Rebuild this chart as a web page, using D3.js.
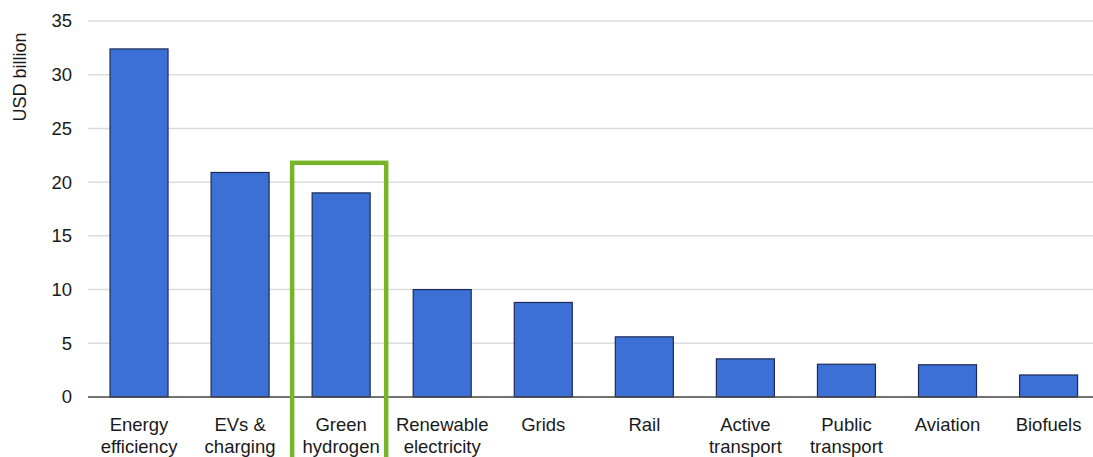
<!DOCTYPE html>
<html>
<head>
<meta charset="utf-8">
<script src="https://cdn.jsdelivr.net/npm/d3@7"></script>
<style>
  body { margin: 0; background: #fff; }
  svg { display: block; font-family: "Liberation Sans", Arial, sans-serif; }
</style>
</head>
<body>
<div id="chart"></div>
<script>
// data
var categories = [
  ["Energy", "efficiency"], ["EVs &", "charging"], ["Green", "hydrogen"],
  ["Renewable", "electricity"], ["Grids"], ["Rail"], ["Active", "transport"],
  ["Public", "transport"], ["Aviation"], ["Biofuels"]
];
var values = [32.4, 20.9, 19.0, 10.0, 8.8, 5.6, 3.55, 3.05, 3.0, 2.05];
var yTicks = [0, 5, 10, 15, 20, 25, 30, 35];
var highlight = "Green hydrogen";
var highlightTop = 21.8;

var width = 1093, height = 457;

var svg = d3.select("#chart")
  .append("svg")
    .attr("width", width)
    .attr("height", height);

var names = categories.map(function(c) { return c.join(" "); });

var x = d3.scaleBand()
  .domain(names)
  .range([88.5, 1099.1])
  .paddingInner(0.426)
  .paddingOuter(0.213);

var y = d3.scaleLinear()
  .domain([0, 35])
  .range([397, 21]);

// gridlines
svg.append("g")
  .selectAll("line")
  .data(yTicks.filter(function(d) { return d > 0; }))
  .enter()
  .append("line")
    .attr("x1", 88)
    .attr("x2", width)
    .attr("y1", function(d) { return y(d); })
    .attr("y2", function(d) { return y(d); })
    .attr("stroke", "#dcdcdc")
    .attr("stroke-width", 1.5);

// y axis labels
var yAxis = svg.append("g")
  .attr("transform", "translate(88,0)")
  .call(d3.axisLeft(y).tickValues(yTicks).tickSize(0).tickPadding(16));
yAxis.select(".domain").remove();
yAxis.selectAll("text")
  .attr("font-size", 18.5)
  .attr("font-family", "Liberation Sans, Arial, sans-serif")
  .attr("fill", "#1a1a1a");

svg.append("text")
  .attr("transform", "translate(26,77)rotate(-90)")
  .attr("text-anchor", "middle")
  .attr("font-size", 18)
  .attr("fill", "#1a1a1a")
  .text("USD billion");

// bars
svg.selectAll("rect.bar")
  .data(values)
  .enter()
  .append("rect")
    .attr("class", "bar")
    .attr("x", function(d, i) { return x(names[i]); })
    .attr("y", function(d) { return y(d); })
    .attr("width", x.bandwidth())
    .attr("height", function(d) { return y(0) - y(d); })
    .attr("fill", "#3c70d6")
    .attr("stroke", "#1c2b55")
    .attr("stroke-width", 1.2);

// baseline
svg.append("line")
  .attr("x1", 88)
  .attr("x2", width)
  .attr("y1", y(0))
  .attr("y2", y(0))
  .attr("stroke", "#444")
  .attr("stroke-width", 1.6);

// category labels
var labels = svg.append("g")
  .selectAll("text")
  .data(categories)
  .enter()
  .append("text")
    .attr("x", function(d, i) { return x(names[i]) + x.bandwidth() / 2; })
    .attr("y", 431)
    .attr("text-anchor", "middle")
    .attr("font-size", 18.5)
    .attr("fill", "#1a1a1a");
labels.selectAll("tspan")
  .data(function(d) { return d; })
  .enter()
  .append("tspan")
    .attr("x", function() { return d3.select(this.parentNode).attr("x"); })
    .attr("dy", function(d, i) { return i === 0 ? 0 : 22; })
    .text(function(d) { return d; });

// green highlight box
var cx = x(highlight) + x.bandwidth() / 2;
svg.append("rect")
  .attr("x", cx - 49)
  .attr("y", y(highlightTop))
  .attr("width", 94)
  .attr("height", height)
  .attr("fill", "none")
  .attr("stroke", "#78b428")
  .attr("stroke-width", 4.5);
</script>
</body>
</html>
